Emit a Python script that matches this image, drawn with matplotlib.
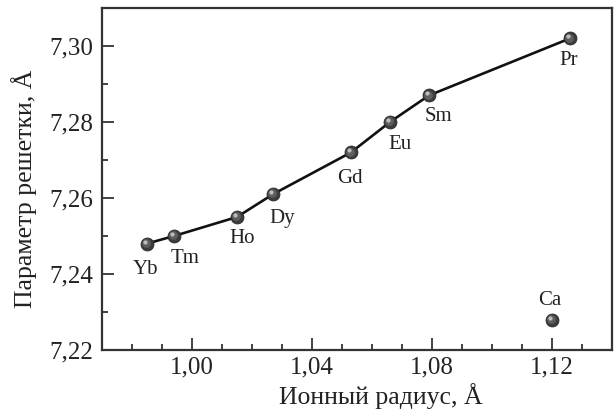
import matplotlib
matplotlib.use("Agg")
import matplotlib.pyplot as plt
from matplotlib.ticker import MultipleLocator, FuncFormatter
from matplotlib.transforms import offset_copy

# Ionic radius (Å) and lattice parameter (Å) for the rare-earth series
elements = ["Yb", "Tm", "Ho", "Dy", "Gd", "Eu", "Sm", "Pr"]
radius = [0.985, 0.994, 1.015, 1.027, 1.053, 1.066, 1.079, 1.126]
lattice = [7.248, 7.250, 7.255, 7.261, 7.272, 7.280, 7.287, 7.302]

# Calcium point, drawn separately (not on the trend line)
ca_label = "Ca"
ca_radius = [1.120]
ca_lattice = [7.228]

# Label baseline offsets in points (dx, dy) relative to each marker
label_offsets = {
    "Yb": (-1.2, -21.8), "Tm": (7.7, -19.4), "Ho": (3.8, -18.9),
    "Dy": (6.3, -20.4), "Gd": (-0.5, -21.8), "Eu": (7.0, -19.7),
    "Sm": (7.0, -18.5), "Pr": (-0.7, -19.0), "Ca": (-1.7, 10.3),
}

plt.rcParams["font.family"] = ["Liberation Serif", "DejaVu Serif"]

fig = plt.figure(figsize=(6.15, 4.12), dpi=100)
ax = fig.add_axes([102 / 615, 1 - 350 / 412, 510 / 615, 342 / 412])

ax.plot(radius, lattice, color="#111111", lw=1.9, zorder=2)


def spheres(xs, ys):
    ax.plot(xs, ys, "o", ms=9.3, color="#3c3c3c", mec="#2a2a2a", mew=0.6, zorder=3)
    ax.plot(xs, ys, "o", ms=6.3, color="#5e5e5e", mew=0, zorder=4,
            transform=offset_copy(ax.transData, fig, x=-0.6, y=0.6, units="points"))
    ax.plot(xs, ys, "o", ms=3.0, color="#bdbdbd", mew=0, zorder=5,
            transform=offset_copy(ax.transData, fig, x=-1.3, y=1.4, units="points"))


spheres(radius, lattice)
spheres(ca_radius, ca_lattice)

for name, x, y in zip(elements + [ca_label], radius + ca_radius, lattice + ca_lattice):
    dx, dy = label_offsets[name]
    ax.annotate(name, (x, y), xytext=(dx, dy), textcoords="offset points",
                ha="center", va="baseline", fontsize=15, color="#222222")

ax.set_xlim(0.97, 1.14)
ax.set_ylim(7.22, 7.31)
ax.xaxis.set_major_locator(MultipleLocator(0.04))
ax.xaxis.set_minor_locator(MultipleLocator(0.01))
ax.yaxis.set_major_locator(MultipleLocator(0.02))
ax.yaxis.set_minor_locator(MultipleLocator(0.01))
comma = FuncFormatter(lambda v, p: f"{v:.2f}".replace(".", ","))
ax.xaxis.set_major_formatter(comma)
ax.yaxis.set_major_formatter(comma)

for s in ax.spines.values():
    s.set_linewidth(1.6)
    s.set_color("#333333")
ax.tick_params(which="both", direction="in", color="#333333", width=1.3,
               labelsize=18, labelcolor="#222222", top=False, right=False)
ax.tick_params(which="major", length=8.4)
ax.tick_params(which="minor", length=4.5)
ax.tick_params(axis="x", which="major", pad=5)
ax.tick_params(axis="y", which="major", pad=6)

ax.set_xlabel("Ионный радиус, Å", fontsize=18.5, color="#222222")
ax.set_ylabel("Параметр решетки, Å", fontsize=18.5, color="#222222")
ax.xaxis.set_label_coords((381 - 102) / 510, -(404 - 350) / 342, transform=ax.transAxes)
ax.xaxis.label.set_va("baseline")
ax.yaxis.set_label_coords(-(102 - 24) / 510, (350 - 189) / 342, transform=ax.transAxes)
ax.yaxis.label.set_va("center")

fig.savefig("out.png", dpi=100)
